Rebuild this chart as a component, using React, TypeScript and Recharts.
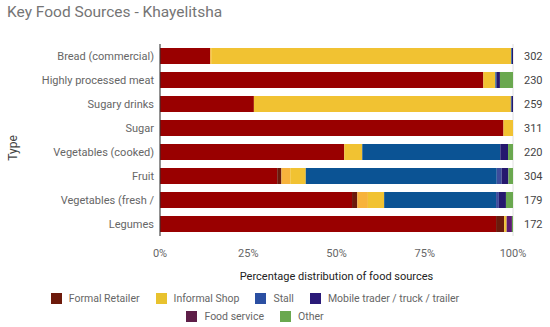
import { BarChart, Bar, XAxis, YAxis, CartesianGrid, Legend } from 'recharts'

const categories = [
  'Bread (commercial)',
  'Highly processed meat',
  'Sugary drinks',
  'Sugar',
  'Vegetables (cooked)',
  'Fruit',
  'Vegetables (fresh /',
  'Legumes',
]
const totals = [302, 230, 259, 311, 220, 304, 179, 172]

// percent shares per source (some sources split into two shades, as in the original sheet)
const formalA = [14.2, 91.6, 26.6, 97.3, 52.2, 33.2, 54.4, 95.2]
const formalB = [0, 0, 0, 0, 0, 1.2, 1.5, 2.3]
const informalB = [0.3, 0, 0, 0, 0, 2.5, 3.0, 0]
const informalA = [85.0, 3.4, 72.8, 2.7, 5.1, 4.4, 4.6, 0.7]
const stallA = [0.2, 0.3, 0.2, 0, 39.1, 54.1, 31.7, 0]
const stallB = [0, 0, 0, 0, 0, 1.4, 0.8, 0]
const mobile = [0.3, 1.0, 0.4, 0, 2.2, 1.9, 2.0, 0]
const foodService = [0, 0, 0, 0, 0, 0, 0, 1.5]
const other = [0, 3.7, 0, 0, 1.4, 1.3, 2.0, 0.3]

const xTicks = [0, 25, 50, 75, 100]
const gridTicks = [0, 5, 10, 15, 20, 25, 30, 35, 40, 45, 50, 55, 60, 65, 70, 75, 80, 85, 90, 95, 100]

const legendNames = ['Formal Retailer', 'Informal Shop', 'Stall', 'Mobile trader / truck / trailer', 'Food service', 'Other']
const legendColors = ['#6d1a0b', '#e8c22e', '#2b4fa2', '#2a1a78', '#5e1e48', '#6aa84f']

const data = categories.map((type, i) => ({
  type,
  n: totals[i],
  formalA: formalA[i],
  formalB: formalB[i],
  informalB: informalB[i],
  informalA: informalA[i],
  stallA: stallA[i],
  stallB: stallB[i],
  mobile: mobile[i],
  foodService: foodService[i],
  other: other[i],
}))

const series = [
  { key: 'formalA', color: '#990000' },
  { key: 'formalB', color: '#6b1a0c' },
  { key: 'informalB', color: '#f7b33c' },
  { key: 'informalA', color: '#f1c232' },
  { key: 'stallA', color: '#0b5394' },
  { key: 'stallB', color: '#3d4c9c' },
  { key: 'mobile', color: '#25186e' },
  { key: 'foodService', color: '#5c1a72' },
  { key: 'other', color: '#6aa84f' },
]

const tickStyle = { fontSize: 11, fill: '#666666' }

function LegendBox() {
  return (
    <div style={{ height: 44, paddingTop: 7, boxSizing: 'border-box' }}>
      <div
        style={{
          width: 440,
          marginLeft: 35,
          display: 'flex',
          flexWrap: 'wrap',
          justifyContent: 'center',
          fontSize: 10.5,
          color: '#666666',
          fontFamily: 'Roboto',
        }}
      >
        {legendNames.map((name, i) => (
          <div key={name} style={{ display: 'flex', alignItems: 'center', height: 18, margin: '0 8px' }}>
            <span style={{ width: 11, height: 11, background: legendColors[i], marginRight: 7 }} />
            {name}
          </div>
        ))}
      </div>
    </div>
  )
}

export default function App() {
  return (
    <div style={{ position: 'absolute', left: 0, top: 0, width: 550, height: 327, fontFamily: 'Roboto', background: '#fff' }}>
      <div style={{ position: 'absolute', left: 7, top: 3, fontSize: 15.5, color: '#757575' }}>
        Key Food Sources - Khayelitsha
      </div>
      <div
        style={{
          position: 'absolute',
          left: -7,
          top: 140,
          width: 40,
          height: 16,
          lineHeight: '16px',
          textAlign: 'center',
          fontSize: 12,
          color: '#444444',
          transform: 'rotate(-90deg)',
          zIndex: 1,
        }}
      >
        Type
      </div>
      <BarChart
        width={550}
        height={327}
        data={data}
        layout="vertical"
        margin={{ top: 44, right: 0, bottom: 1, left: 0 }}
        barSize={16}
      >
        <CartesianGrid horizontal={false} stroke="#e0e0e0" xAxisId="grid" yAxisId="cat" />
        <XAxis xAxisId="grid" type="number" domain={[0, 100]} ticks={gridTicks} hide />
        <XAxis
          type="number"
          domain={[0, 100]}
          ticks={xTicks}
          tickFormatter={(v: number) => `${v}%`}
          tick={tickStyle}
          tickLine={false}
          tickSize={0}
          tickMargin={13}
          axisLine={false}
          height={46}
          label={{ value: 'Percentage distribution of food sources', position: 'insideBottom', offset: 2, fontSize: 11, fill: '#222222' }}
        />
        <YAxis
          yAxisId="cat"
          type="category"
          dataKey="type"
          width={160}
          tick={tickStyle}
          tickLine={false}
          tickSize={0}
          tickMargin={6}
          axisLine={{ stroke: '#333333' }}
          interval={0}
        />
        <YAxis
          yAxisId="n"
          orientation="right"
          type="category"
          dataKey="n"
          width={37}
          tick={{ fontSize: 11, fill: '#444444', textAnchor: 'start' }}
          tickLine={false}
          tickSize={0}
          tickMargin={11}
          axisLine={false}
          interval={0}
        />
        <Legend verticalAlign="bottom" content={() => <LegendBox />} />
        {series.map((s) => (
          <Bar key={s.key} dataKey={s.key} stackId="a" fill={s.color} yAxisId="cat" isAnimationActive={false} />
        ))}
      </BarChart>
    </div>
  )
}
